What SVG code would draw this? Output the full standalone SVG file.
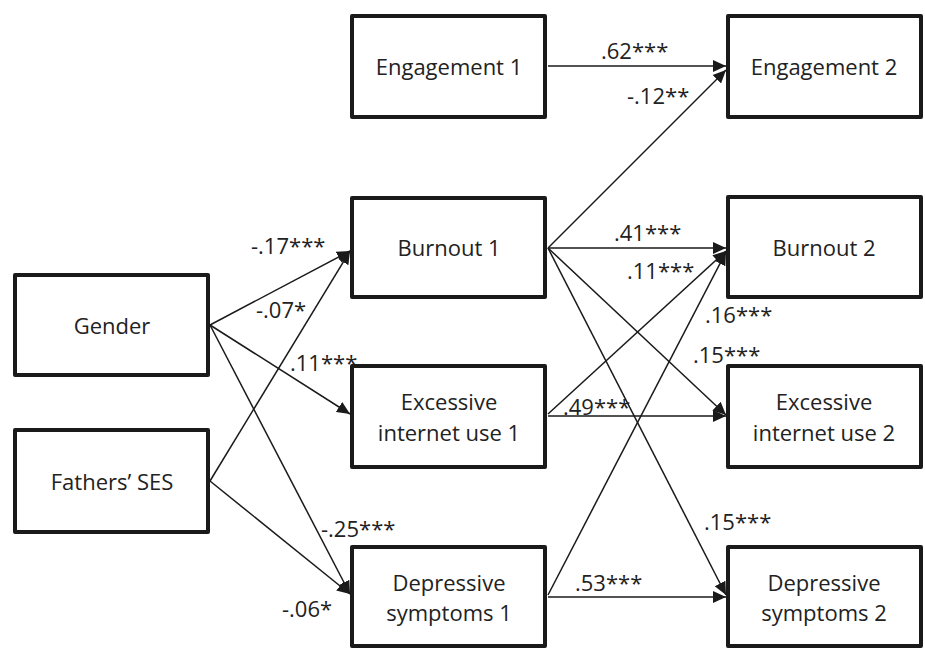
<svg xmlns="http://www.w3.org/2000/svg" width="925" height="649" viewBox="0 0 925 649">
  <style>
    .box rect { fill: #ffffff; stroke: #1a1a1a; stroke-width: 4; stroke-linejoin: round; }
    .box text { font-family: "Open Sans", "Liberation Sans", sans-serif; font-size: 22px; fill: #222222; text-anchor: middle; }
    .lbl { font-family: "Open Sans", "Liberation Sans", sans-serif; font-size: 22px; fill: #222222; }
    #connectors line { stroke: #1a1a1a; stroke-width: 1.5; fill: none; marker-end: url(#arrow); }
  </style>
  <defs>
    <marker id="arrow" markerUnits="userSpaceOnUse" markerWidth="14" markerHeight="14" refX="13" refY="7" orient="auto">
      <path d="M0,1 L13,7 L0,13 z" fill="#1a1a1a"/>
    </marker>
  </defs>
  <rect width="925" height="649" fill="#ffffff"/>

  <!-- paths -->
  <g id="connectors">
    <!-- exogenous predictors -->
    <line x1="210" y1="325" x2="350" y2="251"/>
    <line x1="210" y1="481" x2="350" y2="251"/>
    <line x1="210" y1="325" x2="350" y2="414"/>
    <line x1="210" y1="325" x2="350" y2="594"/>
    <line x1="210" y1="481" x2="350" y2="594"/>
    <!-- time 1 to time 2 -->
    <line x1="548" y1="66" x2="726" y2="66"/>
    <line x1="548" y1="248" x2="726" y2="70"/>
    <line x1="548" y1="248" x2="726" y2="248"/>
    <line x1="548" y1="248" x2="726" y2="415"/>
    <line x1="548" y1="248" x2="726" y2="595"/>
    <line x1="548" y1="414" x2="726" y2="251"/>
    <line x1="548" y1="416" x2="726" y2="416"/>
    <line x1="548" y1="595" x2="726" y2="252"/>
    <line x1="548" y1="597" x2="726" y2="597"/>
  </g>

  <!-- coefficients -->
  <g id="labels">
    <text class="lbl" x="251" y="254">-.17***</text>
    <text class="lbl" x="256" y="318">-.07*</text>
    <text class="lbl" x="290" y="371">.11***</text>
    <text class="lbl" x="321" y="537">-.25***</text>
    <text class="lbl" x="282" y="617">-.06*</text>
    <text class="lbl" x="601" y="59">.62***</text>
    <text class="lbl" x="627" y="104">-.12**</text>
    <text class="lbl" x="614" y="241">.41***</text>
    <text class="lbl" x="627" y="279">.11***</text>
    <text class="lbl" x="705" y="323">.16***</text>
    <text class="lbl" x="693" y="363">.15***</text>
    <text class="lbl" x="563" y="415">.49***</text>
    <text class="lbl" x="704" y="530">.15***</text>
    <text class="lbl" x="575" y="591">.53***</text>
  </g>

  <!-- left column -->
  <g id="gender" class="box">
    <rect x="15" y="275" width="193" height="100"/>
    <text x="112" y="334">Gender</text>
  </g>
  <g id="fathers-ses" class="box">
    <rect x="15" y="430" width="193" height="102"/>
    <text x="112" y="490">Fathers’ SES</text>
  </g>

  <!-- time 1 column -->
  <g id="engagement-1" class="box">
    <rect x="352" y="16" width="193" height="101"/>
    <text x="449" y="75">Engagement 1</text>
  </g>
  <g id="burnout-1" class="box">
    <rect x="352" y="198" width="193" height="99"/>
    <text x="449" y="256">Burnout 1</text>
  </g>
  <g id="excessive-1" class="box">
    <rect x="352" y="366" width="193" height="101"/>
    <text x="449" y="410">Excessive</text>
    <text x="449" y="441">internet use 1</text>
  </g>
  <g id="depressive-1" class="box">
    <rect x="352" y="547" width="193" height="99"/>
    <text x="449" y="591">Depressive</text>
    <text x="449" y="621">symptoms 1</text>
  </g>

  <!-- time 2 column -->
  <g id="engagement-2" class="box">
    <rect x="728" y="16" width="193" height="101"/>
    <text x="824" y="75">Engagement 2</text>
  </g>
  <g id="burnout-2" class="box">
    <rect x="728" y="197" width="193" height="100"/>
    <text x="824" y="256">Burnout 2</text>
  </g>
  <g id="excessive-2" class="box">
    <rect x="728" y="366" width="193" height="101"/>
    <text x="824" y="410">Excessive</text>
    <text x="824" y="441">internet use 2</text>
  </g>
  <g id="depressive-2" class="box">
    <rect x="728" y="547" width="193" height="99"/>
    <text x="824" y="591">Depressive</text>
    <text x="824" y="621">symptoms 2</text>
  </g>
</svg>
